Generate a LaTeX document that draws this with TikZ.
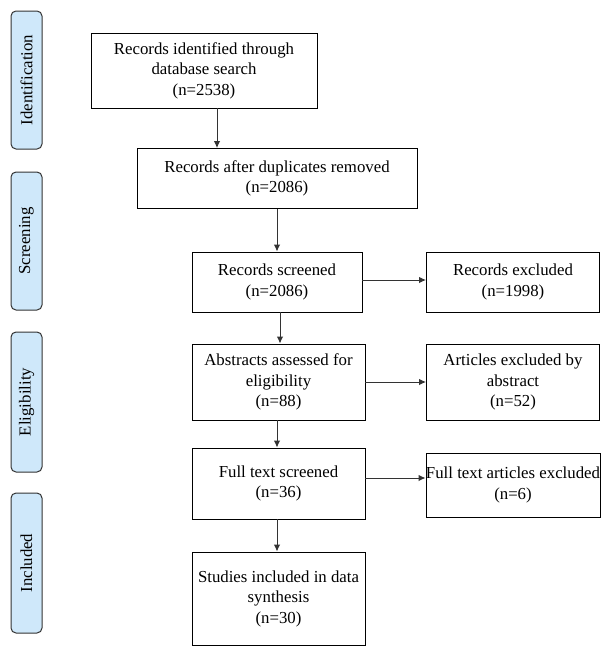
\documentclass[tikz,border=0pt]{standalone}
\usepackage{fontspec}
\setmainfont{Liberation Serif}
\usetikzlibrary{arrows.meta,calc}
\definecolor{sidefill}{HTML}{CFE8FA}
\definecolor{linegray}{HTML}{333333}
\tikzset{
  txt/.style={font=\fontsize{16.8}{20.5}\selectfont},
  mainbox/.style={draw=black, line width=0.9pt, fill=white, align=center, inner sep=0pt, txt},
  sidebox/.style={draw=linegray, line width=1pt, fill=sidefill, rounded corners=5pt, inner sep=0pt},
  sidetext/.style={rotate=90, txt},
  arr/.style={draw=linegray, line width=1pt, -{Latex[length=7pt,width=6.5pt]}}
}
\begin{document}
\begin{tikzpicture}[x=1pt,y=-1pt]
\useasboundingbox (0,0) rectangle (611,656);
% side labels
\node[sidebox, minimum width=31pt, minimum height=138pt] (sid) at (26.5,80) {};
\node[sidetext] (tid) at (sid.center) {Identification};
\node[sidebox, minimum width=31pt, minimum height=138pt] (ssc) at (26.5,241) {};
\node[sidetext] (tsc) at (ssc.center) {Screening};
\node[sidebox, minimum width=31pt, minimum height=140pt] (sel) at (26.5,402) {};
\node[sidetext] (tel) at (sel.center) {Eligibility};
\node[sidebox, minimum width=31pt, minimum height=140pt] (sin) at (26.5,563) {};
\node[sidetext] (tin) at (sin.center) {Included};
% main boxes
\node[mainbox, minimum width=226pt, minimum height=75pt] (b1) at (204,70.5) {Records identified through\\database search\\(n=2538)};
\node[mainbox, minimum width=280pt, minimum height=60pt] (b2) at (277,178.5) {Records after duplicates removed\\(n=2086)};
\node[mainbox, minimum width=170pt, minimum height=60pt] (b3) at (277,282) {Records screened\\(n=2086)};
\node[mainbox, minimum width=173pt, minimum height=60pt] (e1) at (513,282) {Records excluded\\(n=1998)};
\node[mainbox, minimum width=173pt, minimum height=76pt] (b4) at (278.5,382) {Abstracts assessed for\\eligibility\\(n=88)};
\node[mainbox, minimum width=173pt, minimum height=76pt] (e2) at (513,382) {Articles excluded by\\abstract\\(n=52)};
\node[mainbox, minimum width=173pt, minimum height=71pt] (b5) at (278.5,483.5) {Full text screened\\(n=36)};
\node[mainbox, minimum width=174pt, minimum height=64pt] (e3) at (513,485) {Full text articles excluded\\(n=6)};
\node[mainbox, minimum width=173pt, minimum height=93pt] (b6) at (278.5,598.5) {Studies included in data\\synthesis\\(n=30)};
% connectors
\draw[arr] (b1.south -| 217,0) -- (b2.north -| 217,0);
\draw[arr] (b2.south -| 277,0) -- (b3.north -| 277,0);
\draw[arr] (b3.south -| 280,0) -- (b4.north -| 280,0);
\draw[arr] (b4.south -| 277,0) -- (b5.north -| 277,0);
\draw[arr] (b5.south -| 277,0) -- (b6.north -| 277,0);
\draw[arr] (b3.east |- 0,280) -- (e1.west |- 0,280);
\draw[arr] (b4.east |- 0,382) -- (e2.west |- 0,382);
\draw[arr] (b5.east |- 0,478) -- (e3.west |- 0,478);
\end{tikzpicture}
\end{document}
